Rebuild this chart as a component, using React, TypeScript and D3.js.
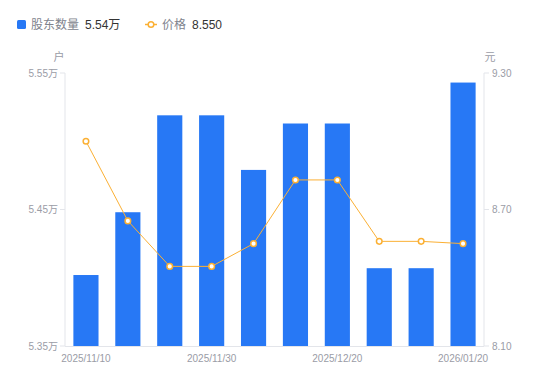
import React from "react";
import * as d3 from "d3";

const categories = [
  "2025/11/10", "2025/11/20", "2025/11/25", "2025/11/30", "2025/12/10",
  "2025/12/15", "2025/12/20", "2025/12/31", "2026/01/09", "2026/01/20",
];
const holders = [5.402, 5.448, 5.519, 5.519, 5.479, 5.513, 5.513, 5.407, 5.407, 5.543];
const prices = [9.0, 8.65, 8.45, 8.45, 8.55, 8.83, 8.83, 8.56, 8.56, 8.55];
const leftTicks = [5.35, 5.45, 5.55];
const rightTicks = [8.1, 8.7, 9.3];
const shownLabels = [0, 3, 6, 9];

const W = 550, H = 381;
const L = 65, R = 484, T = 73, B = 346;
const FONT = "'Liberation Sans', 'Noto Sans CJK SC', sans-serif";
const AXIS = "#e3e5ea";
const TXT = "#9a9ca6";
const BLUE = "#2778f5";
const ORANGE = "#fbb034";

export default function App() {
  const x = d3.scaleBand<string>().domain(categories).range([L, R]).paddingInner(0.4).paddingOuter(0.2);
  const yL = d3.scaleLinear().domain([5.35, 5.55]).range([B, T]);
  const yR = d3.scaleLinear().domain([8.1, 9.3]).range([B, T]);
  const cx = (c: string) => (x(c) as number) + x.bandwidth() / 2;
  const line = d3.line<number>().x((_, i) => cx(categories[i])).y((d) => yR(d));

  return (
    <svg width={W} height={H} style={{ position: "absolute", left: 0, top: 0, fontFamily: FONT }}>
      {/* legend */}
      <rect x={17} y={20} width={9} height={9} rx={1.5} fill={BLUE} />
      <text x={31} y={29} fontSize={12} fill="#80838d">股东数量</text>
      <text x={85} y={29} fontSize={12} fill="#333">5.54万</text>
      <line x1={145} x2={157} y1={24.5} y2={24.5} stroke={ORANGE} strokeWidth={1.5} />
      <circle cx={151} cy={24.5} r={2.8} fill="#fff" stroke={ORANGE} strokeWidth={1.5} />
      <text x={162} y={29} fontSize={12} fill="#80838d">价格</text>
      <text x={192} y={29} fontSize={12} fill="#333">8.550</text>

      {/* units */}
      <text x={59} y={61} fontSize={11} fill={TXT} textAnchor="middle">户</text>
      <text x={490} y={61} fontSize={11} fill={TXT} textAnchor="middle">元</text>

      {/* axes */}
      <line x1={L} x2={L} y1={T} y2={B} stroke={AXIS} />
      <line x1={R} x2={R} y1={T} y2={B} stroke={AXIS} />
      <line x1={L} x2={R} y1={B + 0.5} y2={B + 0.5} stroke={AXIS} />
      {leftTicks.map((t) => (
        <g key={"l" + t}>
          <line x1={L - 5} x2={L} y1={yL(t)} y2={yL(t)} stroke={AXIS} />
          <text x={L - 7} y={yL(t) + 3.5} fontSize={10} fill={TXT} textAnchor="end">{t.toFixed(2) + "万"}</text>
        </g>
      ))}
      {rightTicks.map((t) => (
        <g key={"r" + t}>
          <line x1={R} x2={R + 5} y1={yR(t)} y2={yR(t)} stroke={AXIS} />
          <text x={R + 8} y={yR(t) + 3.5} fontSize={10} fill={TXT}>{t.toFixed(2)}</text>
        </g>
      ))}
      {shownLabels.map((i) => (
        <text key={"x" + i} x={cx(categories[i])} y={362} fontSize={10} fill={TXT} textAnchor="middle">{categories[i]}</text>
      ))}

      {/* bars */}
      {holders.map((v, i) => (
        <rect key={"b" + i} x={x(categories[i])} y={yL(v)} width={x.bandwidth()} height={B - yL(v)} fill={BLUE} />
      ))}

      {/* price line */}
      <path d={line(prices) || ""} fill="none" stroke={ORANGE} strokeWidth={1} />
      {prices.map((p, i) => (
        <circle key={"p" + i} cx={cx(categories[i])} cy={yR(p)} r={2.8} fill="#fff" stroke={ORANGE} strokeWidth={1.5} />
      ))}
    </svg>
  );
}
